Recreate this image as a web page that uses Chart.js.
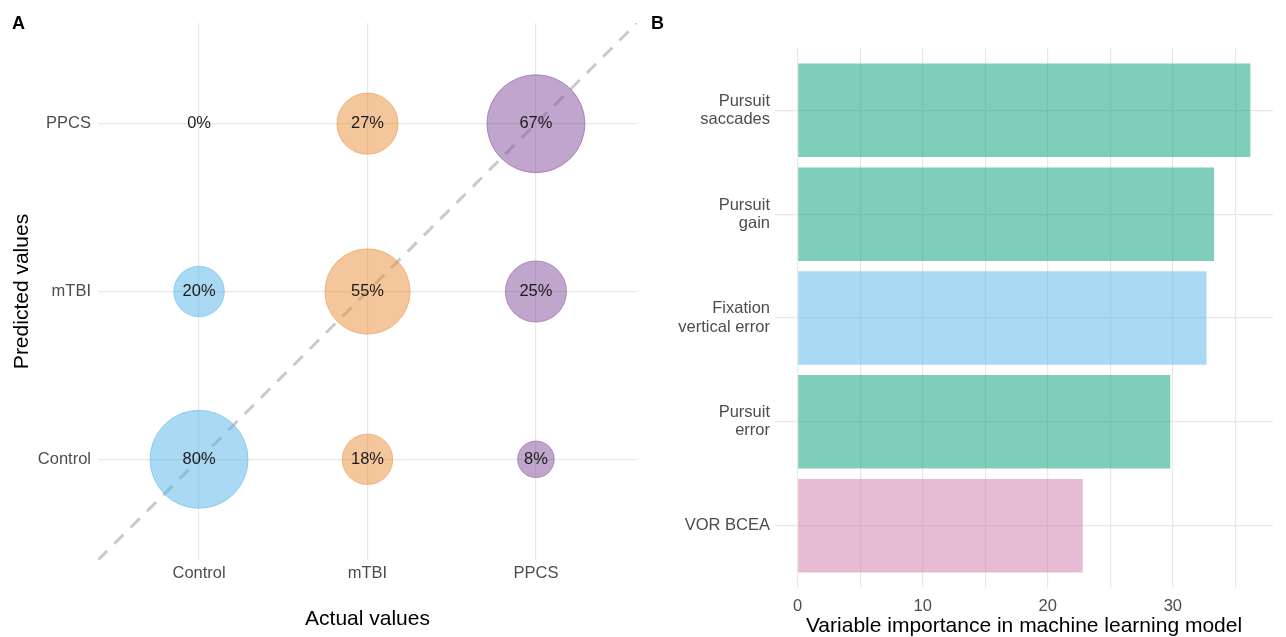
<!DOCTYPE html>
<html>
<head>
<meta charset="utf-8">
<title>Confusion matrix and variable importance</title>
<script src="https://cdn.jsdelivr.net/npm/chart.js@4.4.1/dist/chart.umd.min.js"></script>
<style>
    html, body { margin: 0; padding: 0; background: #fff; }
    body { width: 1286px; height: 637px; position: relative; overflow: hidden;
           font-family: "Liberation Sans", Arial, sans-serif; }
    .panel { position: absolute; top: 0; height: 637px; }
    #panelA { left: 0; width: 645px; }
    #panelB { left: 645px; width: 641px; }
    .tag { position: absolute; top: 13px; font-weight: bold; font-size: 18px; color: #000; }
</style>
</head>
<body>
<div class="panel" id="panelA"><canvas id="chartA"></canvas></div>
<div class="panel" id="panelB"><canvas id="chartB"></canvas></div>
<div class="tag" style="left:12px;">A</div>
<div class="tag" style="left:651px;">B</div>

<script>
/* ---------- DATA: PANEL A (confusion matrix) ---------- */
const actualCats = ["Control", "mTBI", "PPCS"];
const predictedCats = ["Control", "mTBI", "PPCS"];

// share of each actual class predicted as Control / mTBI / PPCS
const controlPct = [80, 20, 0];
const mtbiPct = [18, 55, 27];
const ppcsPct = [8, 25, 67];

// participant counts behind those shares (bubble area)
const controlCount = [8, 2, 0];
const mtbiCount = [2, 6, 3];
const ppcsCount = [1, 3, 8];

const classColors = ["rgba(86,180,233,0.5)", "rgba(233,141,55,0.5)", "rgba(129,75,153,0.5)"];

/* ---------- DATA: PANEL B (variable importance) ---------- */
const featureLabels = [
    ["Pursuit", "saccades"],
    ["Pursuit", "gain"],
    ["Fixation", "vertical error"],
    ["Pursuit", "error"],
    "VOR BCEA"
];
const importance = [36.2, 33.3, 32.7, 29.8, 22.8];
const featureGroup = ["pursuit", "pursuit", "fixation", "pursuit", "vor"];
const xTicksB = [0, 10, 20, 30];
const xGridB = [0, 5, 10, 15, 20, 25, 30, 35];

const groupColors = {
    pursuit: "rgba(0,158,115,0.5)",
    fixation: "rgba(86,180,233,0.5)",
    vor: "rgba(204,121,167,0.5)"
};

/* ---------- COMMON ---------- */
Chart.defaults.font.family = '"Liberation Sans", Arial, sans-serif';
Chart.defaults.animation = false;

const GRID = "#e8e8e8";
const TICK = "#4d4d4d";

/* ---------- BUBBLE SIZE (ggplot-like area scale) ---------- */
function bubbleRadius(count) {
    if (!count) return 0;
    return 1.5 + 16.8 * Math.sqrt(count);
}

function bubbleSet(col, pct, count) {
    return {
        type: "bubble",
        order: 1,
        data: pct.map((p, i) => ({ x: col + 1, y: i + 1, r: bubbleRadius(count[i]), pct: p })),
        backgroundColor: classColors[col],
        borderColor: classColors[col],
        borderWidth: 1
    };
}

/* ---------- PERCENT LABELS ---------- */
const pctLabels = {
    id: "pctLabels",
    afterDatasetsDraw(chart) {
        const ctx = chart.ctx;
        ctx.save();
        ctx.font = '16.5px "Liberation Sans", Arial, sans-serif';
        ctx.fillStyle = "#1a1a1a";
        ctx.textAlign = "center";
        ctx.textBaseline = "middle";
        chart.data.datasets.forEach((ds, di) => {
            if (ds.type !== "bubble") return;
            chart.getDatasetMeta(di).data.forEach((el, i) => {
                ctx.fillText(ds.data[i].pct + "%", el.x, el.y);
            });
        });
        ctx.restore();
    }
};

/* ---------- PANEL A ---------- */
new Chart(document.getElementById("chartA"), {
    type: "bubble",
    data: {
        datasets: [
            bubbleSet(0, controlPct, controlCount),
            bubbleSet(1, mtbiPct, mtbiCount),
            bubbleSet(2, ppcsPct, ppcsCount),
            {
                type: "line",
                order: 2,
                data: [{ x: 0.4, y: 0.4 }, { x: 3.6, y: 3.6 }],
                borderColor: "#cacaca",
                borderWidth: 3,
                borderDash: [13, 10],
                pointRadius: 0,
                fill: false
            }
        ]
    },
    options: {
        responsive: true,
        maintainAspectRatio: false,
        events: [],
        layout: { autoPadding: false, padding: { top: 23, right: 8, left: 0, bottom: 0 } },
        plugins: { legend: { display: false }, tooltip: { enabled: false } },
        scales: {
            x: {
                type: "linear",
                min: 0.4,
                max: 3.6,
                afterBuildTicks: s => { s.ticks = actualCats.map((c, i) => ({ value: i + 1 })); },
                afterFit: s => { s.height = 77; },
                ticks: { callback: (v, i) => actualCats[i], color: TICK, font: { size: 16.5 }, padding: 4 },
                grid: { color: GRID, lineWidth: 1.2, drawTicks: false },
                border: { display: false },
                title: { display: true, text: "Actual values", color: "#000", font: { size: 21 }, padding: { top: 0, bottom: 5 } }
            },
            y: {
                type: "linear",
                min: 0.4,
                max: 3.6,
                afterBuildTicks: s => { s.ticks = predictedCats.map((c, i) => ({ value: i + 1 })); },
                afterFit: s => { s.width = 98; },
                ticks: { callback: (v, i) => predictedCats[i], color: TICK, font: { size: 16.5 }, padding: 7 },
                grid: { color: GRID, lineWidth: 1.2, drawTicks: false },
                border: { display: false },
                title: { display: true, text: "Predicted values", color: "#000", font: { size: 21 }, padding: { top: 10, bottom: 0 } }
            }
        }
    },
    plugins: [pctLabels]
});

/* ---------- PANEL B ---------- */
const maxImp = Math.max(...importance);

new Chart(document.getElementById("chartB"), {
    type: "bar",
    data: {
        datasets: [{
            data: importance.map((v, i) => ({ x: v, y: i + 1 })),
            backgroundColor: featureGroup.map(g => groupColors[g]),
            borderWidth: 0,
            barPercentage: 0.9,
            categoryPercentage: 1
        }]
    },
    options: {
        indexAxis: "y",
        responsive: true,
        maintainAspectRatio: false,
        events: [],
        layout: { autoPadding: false, padding: { top: 48, right: 13, left: 0, bottom: 0 } },
        plugins: { legend: { display: false }, tooltip: { enabled: false } },
        scales: {
            x: {
                type: "linear",
                min: -0.05 * maxImp,
                max: 1.05 * maxImp,
                afterBuildTicks: s => { s.ticks = xGridB.map(v => ({ value: v })); },
                afterFit: s => { s.height = 49; },
                ticks: {
                    callback: v => (xTicksB.includes(v) ? String(v) : ""),
                    color: TICK, font: { size: 16.5 }, padding: 9
                },
                grid: { color: GRID, lineWidth: 1.2, drawTicks: false },
                border: { display: false },
                title: { display: true, text: "Variable importance in machine learning model", color: "#000", font: { size: 21 }, padding: { top: 0, bottom: -2 } }
            },
            y: {
                type: "linear",
                reverse: true,
                offset: false,
                min: 0.4,
                max: featureLabels.length + 0.6,
                afterBuildTicks: s => { s.ticks = featureLabels.map((l, i) => ({ value: i + 1 })); },
                afterFit: s => { s.width = 130; },
                ticks: { callback: (v, i) => featureLabels[i], color: TICK, font: { size: 16.5, lineHeight: 1.1 }, padding: 5 },
                grid: { color: GRID, lineWidth: 1.2, drawTicks: false, offset: false },
                border: { display: false }
            }
        }
    }
});
</script>
</body>
</html>
